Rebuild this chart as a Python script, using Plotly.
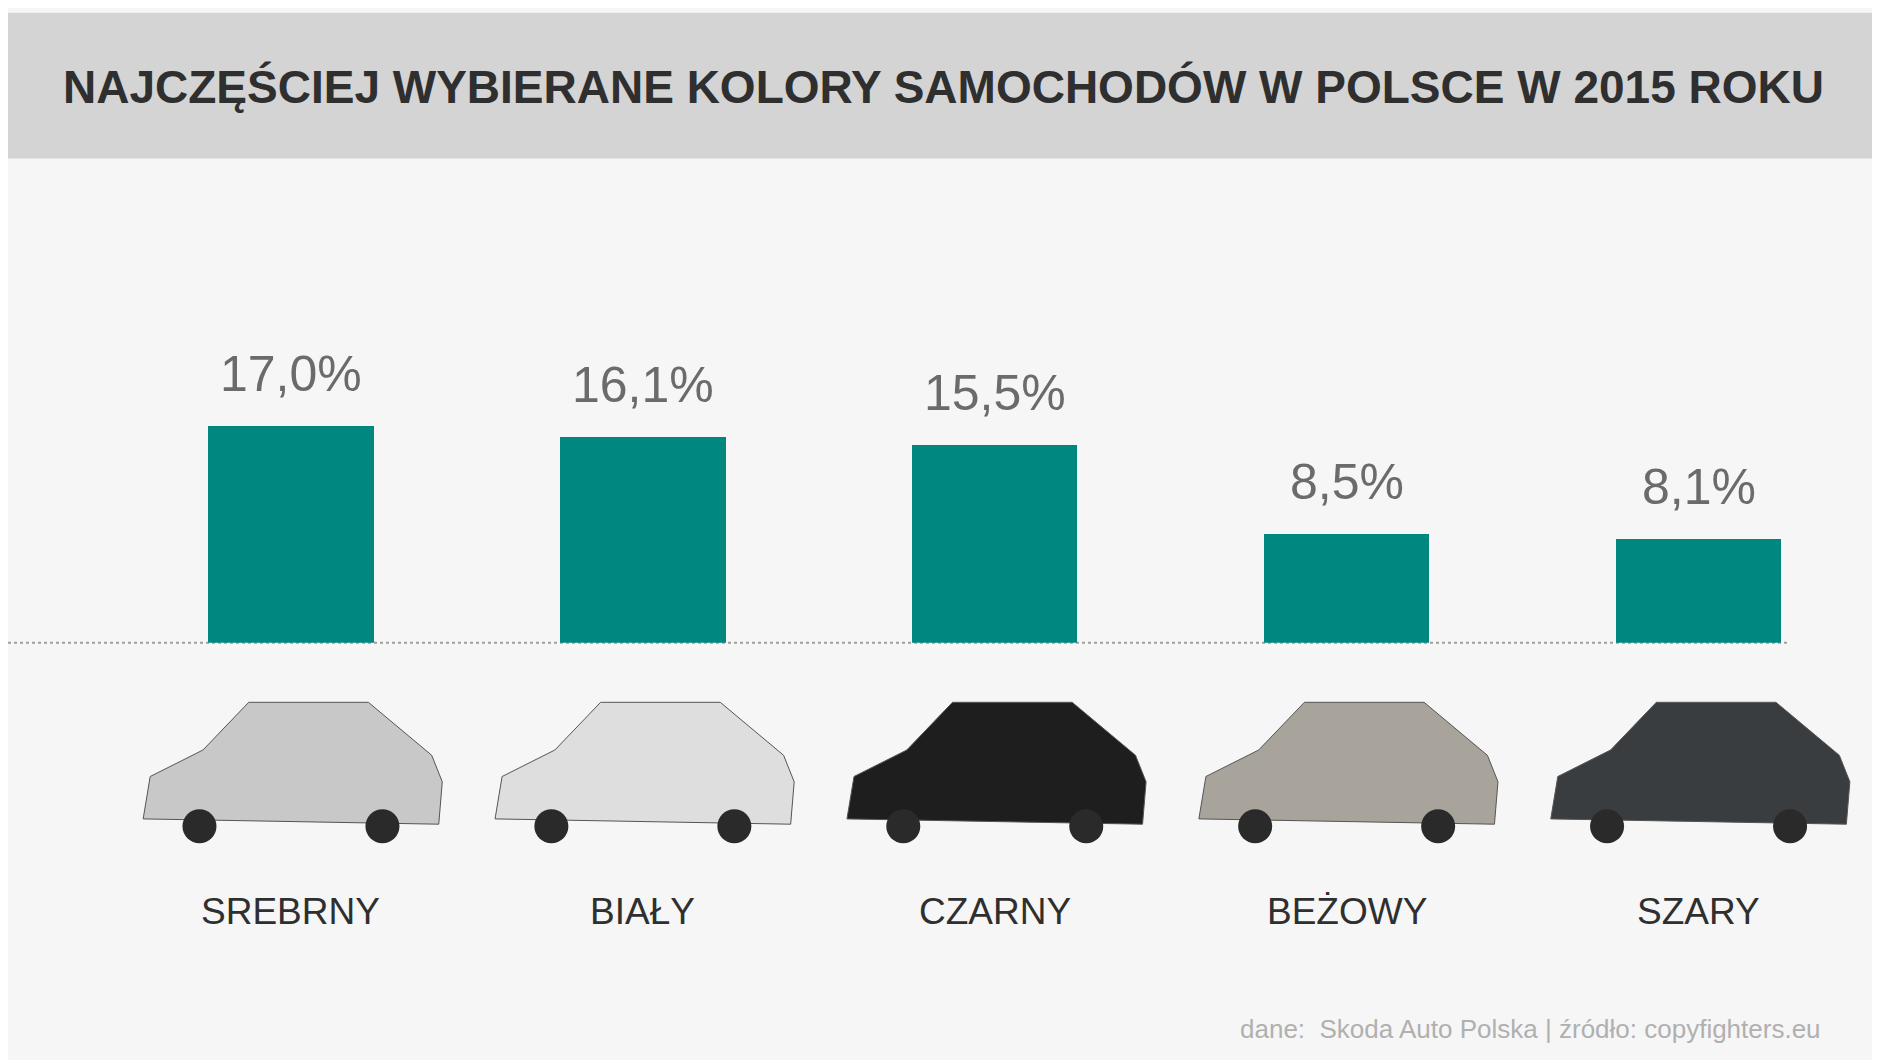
import plotly.graph_objects as go

categories = ["SREBRNY", "BIAŁY", "CZARNY", "BEŻOWY", "SZARY"]
values = [17.0, 16.1, 15.5, 8.5, 8.1]
labels = ["17,0%", "16,1%", "15,5%", "8,5%", "8,1%"]
car_colors = ["#c8c8c8", "#dedede", "#1e1e1e", "#a8a49c", "#3a3d40"]

W, H = 1568, 880
xs = list(range(len(categories)))
sp = 293.5 / W
left = -(236 / W) / sp
fig = go.Figure()
fig.add_bar(x=xs, y=values, width=0.47, marker=dict(color="#00877f", line=dict(width=0)),
            hoverinfo="skip")
for x, v, t in zip(xs, values, labels):
    fig.add_annotation(x=x, y=v, text=t, showarrow=False, yanchor="bottom", yshift=22,
                       font=dict(family="Liberation Sans", size=50, color="#6b6b6b"))

ybase = 1 - 527 / H
ytop_h = 1 - ybase
yr = ytop_h / (180 / H) * 17
fig.update_layout(
    width=1880, height=1060, margin=dict(l=0, r=0, t=0, b=0),
    paper_bgcolor="#f6f6f6", plot_bgcolor="rgba(0,0,0,0)", showlegend=False, bargap=0,
    xaxis=dict(domain=[0, 1], range=[left, left + 1 / sp], visible=False),
    yaxis=dict(domain=[ybase, 1], range=[0, yr], visible=False),
    xaxis2=dict(domain=[0, 1], range=[left, left + 1 / sp], visible=False, anchor="y2"),
    yaxis2=dict(domain=[0, 1], range=[0, 1], visible=False, anchor="x2"),
)
fig.add_shape(type="rect", xref="paper", yref="paper", x0=0, x1=1, y0=1 - 125 / H, y1=1 - 4 / H,
              fillcolor="#d4d4d4", line=dict(width=0), layer="below")
fig.add_annotation(xref="paper", yref="paper", x=1516 / W, y=1 - 66 / H, xanchor="right", yanchor="middle",
                   text="<b>NAJCZĘŚCIEJ WYBIERANE KOLORY SAMOCHODÓW W POLSCE W 2015 ROKU</b>",
                   showarrow=False, font=dict(family="Liberation Sans", size=46, color="#2f2f2f"))
fig.add_shape(type="line", xref="paper", yref="paper", x0=0, x1=1486 / W, y0=ybase, y1=ybase,
              line=dict(color="#a0a0a0", width=2, dash="dot"), layer="below")
for i, (c, col) in enumerate(zip(categories, car_colors)):
    fig.add_trace(go.Scatter(
        x=[i - 0.42, i - 0.40, i - 0.25, i - 0.12, i + 0.22, i + 0.40, i + 0.43, i + 0.42, i - 0.42],
        y=[0.235, 0.275, 0.30, 0.345, 0.345, 0.295, 0.27, 0.23, 0.235],
        xaxis="x2", yaxis="y2", fill="toself", fillcolor=col, mode="lines",
        line=dict(color="#555", width=1), hoverinfo="skip"))
    for dx in (-0.26, 0.26):
        fig.add_trace(go.Scatter(x=[i + dx], y=[0.228], xaxis="x2", yaxis="y2", mode="markers",
                                 marker=dict(size=34, color="#2a2a2a"), hoverinfo="skip"))
    fig.add_annotation(xref="x2", yref="y2", x=i, y=1 - 750 / H, text=c, showarrow=False,
                       font=dict(family="Liberation Sans", size=37, color="#2f2f2f"))
fig.add_annotation(xref="paper", yref="paper", x=1026 / W, y=1 - 848 / H, xanchor="left", yanchor="middle",
                   text="dane:  Skoda Auto Polska | źródło: copyfighters.eu", showarrow=False,
                   font=dict(family="Liberation Sans", size=26, color="#b0b0b0"))
fig.write_html("out.html")
